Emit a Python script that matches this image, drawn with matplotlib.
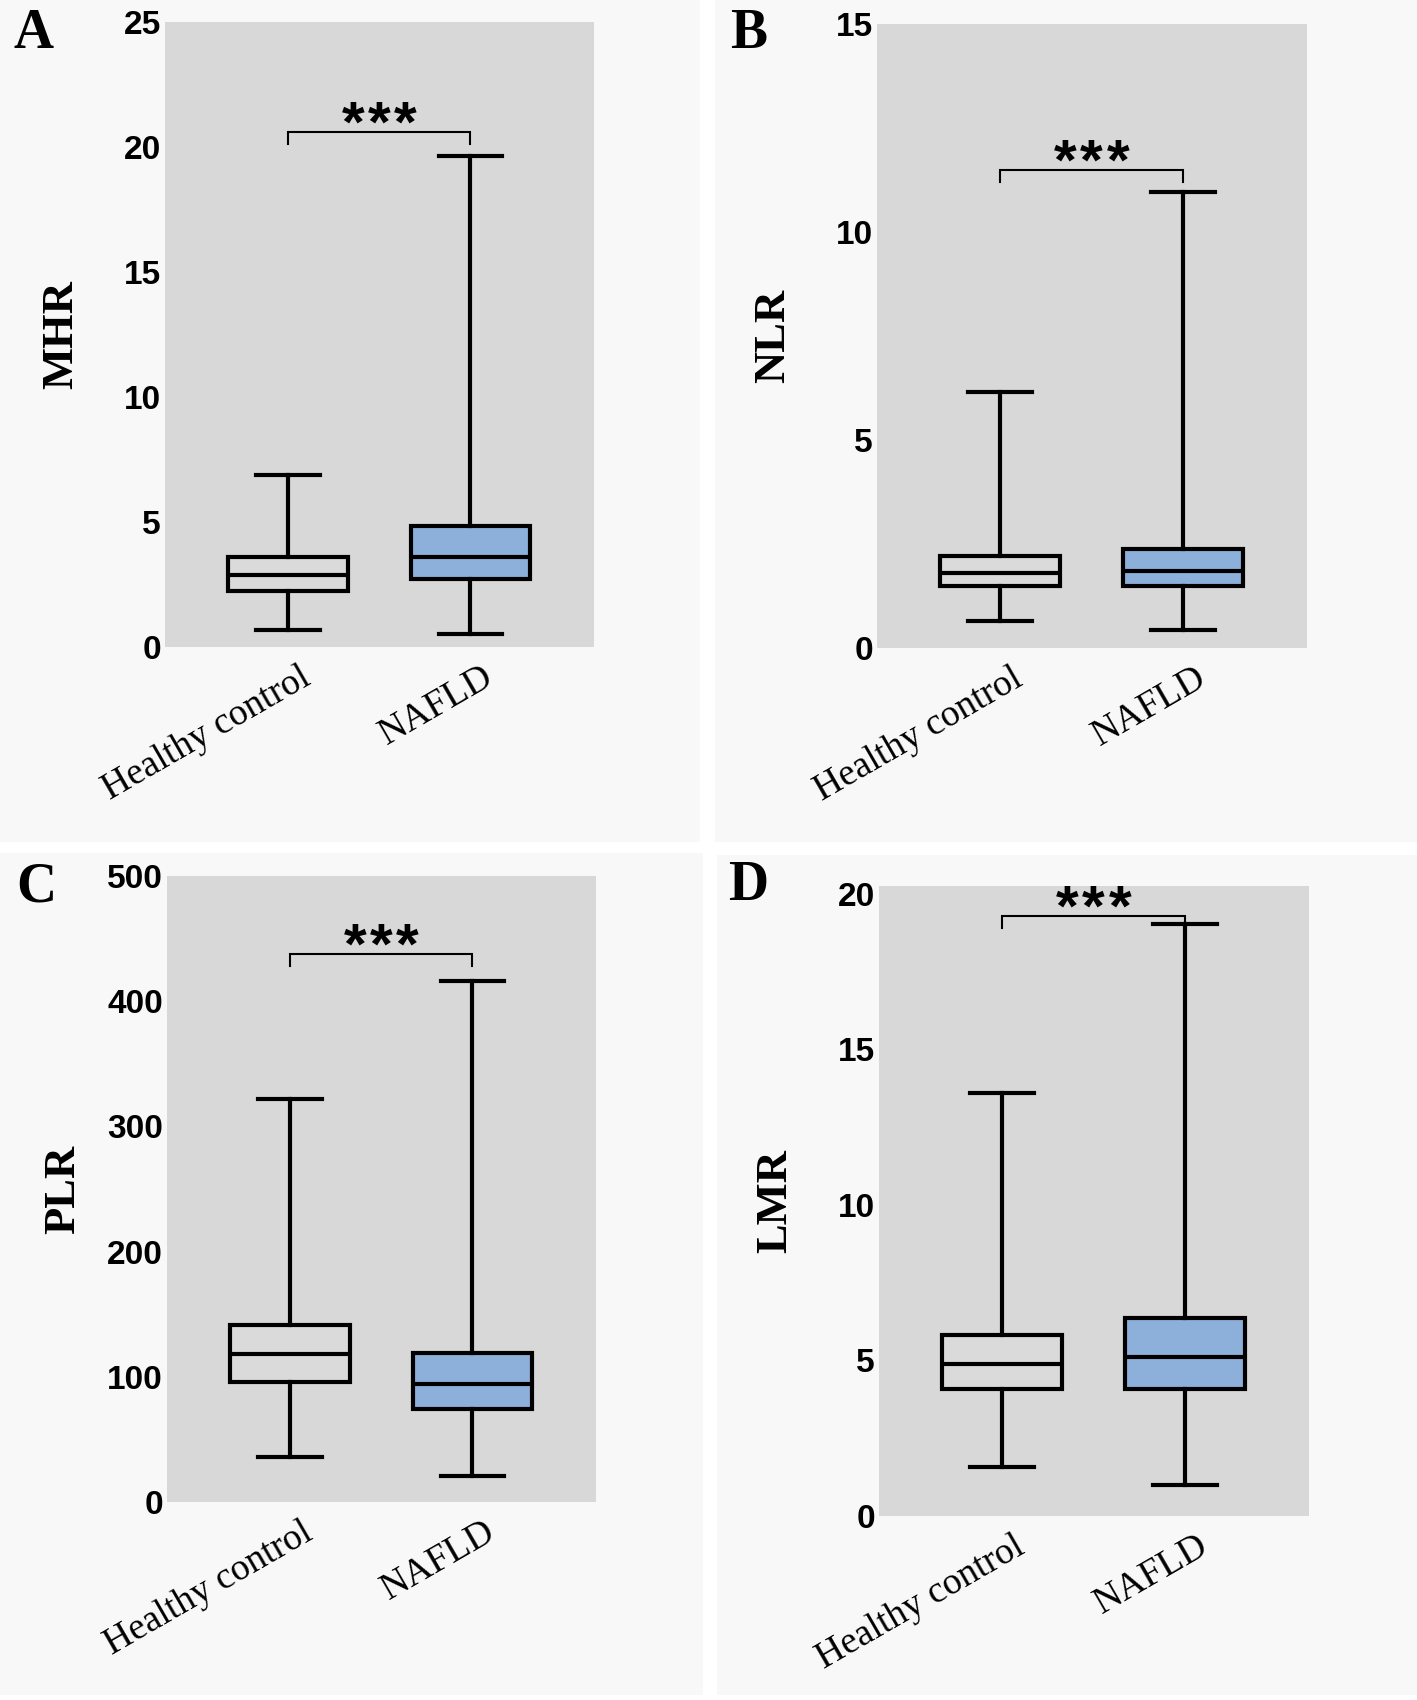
import matplotlib.pyplot as plt
from matplotlib.patches import Rectangle
import matplotlib.transforms as mtransforms

# ---- data ----
groups = ['Healthy control', 'NAFLD']

mhr_min = [0.70, 0.52]
mhr_q1 = [2.24, 2.72]
mhr_med = [2.90, 3.59]
mhr_q3 = [3.59, 4.83]
mhr_max = [6.90, 19.66]

nlr_min = [0.65, 0.43]
nlr_q1 = [1.50, 1.48]
nlr_med = [1.81, 1.85]
nlr_q3 = [2.20, 2.37]
nlr_max = [6.16, 10.97]

plr_min = [36, 21]
plr_q1 = [96, 74.5]
plr_med = [118, 94.5]
plr_q3 = [141, 119]
plr_max = [322, 416]

lmr_min = [1.59, 1.01]
lmr_q1 = [4.07, 4.07]
lmr_med = [4.89, 5.11]
lmr_q3 = [5.81, 6.37]
lmr_max = [13.6, 19.04]

# significance brackets: (bar height, leg bottom)
mhr_sig = (20.6, 20.1)
nlr_sig = (11.49, 11.2)
plr_sig = (438, 428)
lmr_sig = (19.28, 18.9)

W, H = 1417, 1700
fig = plt.figure(figsize=(W / 100, H / 100), dpi=100)
fig.patch.set_facecolor('white')

# light grey panel backgrounds (pixel boxes: x0, y0_top, x1, y1_bottom)
for x0, y0, x1, y1 in [(0, 0, 700, 842), (715, 0, 1417, 842),
                       (0, 853, 703, 1695), (717, 855, 1417, 1695)]:
    fig.add_artist(Rectangle((x0 / W, 1 - y1 / H), (x1 - x0) / W, (y1 - y0) / H,
                             transform=fig.transFigure, facecolor='#f8f8f8',
                             edgecolor='none', zorder=-10))

BG = '#d8d8d8'
BLUE = '#8db0da'
LW = 3.0


def make_stats(mins, q1s, meds, q3s, maxs):
    return [dict(whislo=a, q1=b, med=c, q3=d, whishi=e, fliers=[], label=g)
            for a, b, c, d, e, g in zip(mins, q1s, meds, q3s, maxs, groups)]


panels = [
    ('A', 'MHR', make_stats(mhr_min, mhr_q1, mhr_med, mhr_q3, mhr_max),
     (0, 25), [0, 5, 10, 15, 20, 25], mhr_sig, (165, 22, 594, 647), (13, 8)),
    ('B', 'NLR', make_stats(nlr_min, nlr_q1, nlr_med, nlr_q3, nlr_max),
     (0, 15), [0, 5, 10, 15], nlr_sig, (877, 24, 1307, 648), (730, 8)),
    ('C', 'PLR', make_stats(plr_min, plr_q1, plr_med, plr_q3, plr_max),
     (0, 500), [0, 100, 200, 300, 400, 500], plr_sig, (167, 876, 596, 1502), (16, 862)),
    ('D', 'LMR', make_stats(lmr_min, lmr_q1, lmr_med, lmr_q3, lmr_max),
     (0, 20.25), [0, 5, 10, 15, 20], lmr_sig, (879, 886, 1309, 1516), (728, 860)),
]

for letter, ylab, stats, ylim, yticks, sig, box, lpos in panels:
    l, t, r, b = box
    ax = fig.add_axes([l / W, 1 - b / H, (r - l) / W, (b - t) / H])
    ax.set_facecolor(BG)
    bp = ax.bxp(stats, positions=[1, 2], widths=0.657, showfliers=False,
                patch_artist=True, capwidths=0.35,
                boxprops=dict(linewidth=LW, edgecolor='black'),
                whiskerprops=dict(linewidth=LW, color='black'),
                capprops=dict(linewidth=LW, color='black'),
                medianprops=dict(linewidth=LW, color='black'))
    for patch, fc in zip(bp['boxes'], ['#dadada', BLUE]):
        patch.set_facecolor(fc)
        patch.set_joinstyle('miter')

    ax.set_xlim(0.326, 2.677)
    ax.set_ylim(*ylim)
    ax.set_yticks(yticks)
    for s in ax.spines.values():
        s.set_visible(False)
    ax.tick_params(axis='both', length=0)
    ax.tick_params(axis='y', pad=3)
    ax.tick_params(axis='x', pad=20)
    for lab in ax.get_yticklabels():
        lab.set_fontfamily('Liberation Sans')
        lab.set_fontweight('bold')
        lab.set_fontsize(24)

    ax.set_xticks([1, 2])
    ax.set_xticklabels(groups, rotation=30, ha='right', va='center',
                       rotation_mode='anchor', fontfamily='Liberation Serif',
                       fontsize=27)
    offset = mtransforms.ScaledTranslation(20 / 100, 0, fig.dpi_scale_trans)
    for lab in ax.get_xticklabels():
        lab.set_transform(lab.get_transform() + offset)

    ax.set_ylabel(ylab, fontfamily='Liberation Serif', fontweight='bold', fontsize=32)
    ax.yaxis.set_label_coords(-0.195, 0.5)

    # significance bracket
    top, leg = sig
    ax.plot([1, 1, 2, 2], [leg, top, top, leg], color='black', lw=1.5,
            solid_joinstyle='miter')
    for dx in (-19, 0, 19):
        ax.annotate('*', xy=(1.5, top), xytext=(dx, -7), textcoords='offset points',
                    ha='center', va='baseline', fontfamily='Liberation Sans',
                    fontweight='bold', fontsize=42)

    fig.text(lpos[0] / W, 1 - lpos[1] / H, letter, ha='left', va='top',
             fontfamily='Liberation Serif', fontweight='bold', fontsize=40)

fig.savefig('out.png', dpi=100, facecolor='white')
